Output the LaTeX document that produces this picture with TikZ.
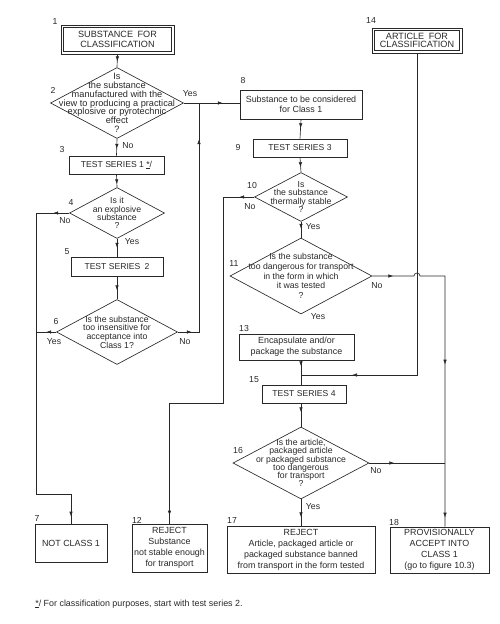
\documentclass[tikz,border=0pt]{standalone}
\usepackage{fontspec}
\setmainfont{Liberation Sans}
\usetikzlibrary{shapes.geometric,arrows.meta,decorations.markings}
\definecolor{ink}{RGB}{40,40,40}
\begin{document}
\begin{tikzpicture}[x=1pt,y=-1pt,color=ink,line width=0.65pt,
  bx/.style={draw,rectangle,inner sep=0pt,align=center,font=\fontsize{8.9}{10}\selectfont},
  dbx/.style={bx,line width=0.6pt},
  inbox/.style={line width=0.6pt},
  dia/.style={draw,diamond,inner sep=0pt},
  dtxt/.style={align=center,inner sep=0pt,font=\fontsize{8.7}{#1}\selectfont},
  num/.style={inner sep=0pt,font=\fontsize{8.7}{10}\selectfont},
  arr/.style={postaction={decorate,decoration={markings,mark=at position #1 with {\arrow{Latex[length=5pt,width=3.5pt]}}}}}
]
\useasboundingbox (0,0) rectangle (500,624);

% boxes
\node[dbx,minimum width=113pt,minimum height=29pt,font=\fontsize{9.1}{10}\selectfont] (n1) at (117.5,39.5) {SUBSTANCE\enspace FOR\\CLASSIFICATION};
\draw[inbox] ([shift={(3pt,-3pt)}]n1.north west) rectangle ([shift={(-3pt,3pt)}]n1.south east);
\node[dbx,minimum width=90pt,minimum height=25pt,font=\fontsize{9.1}{8.6}\selectfont] (n14) at (417,40.5) {ARTICLE\enspace FOR\\CLASSIFICATION};
\draw[inbox] ([shift={(3pt,-3pt)}]n14.north west) rectangle ([shift={(-3pt,3pt)}]n14.south east);
\node[bx,minimum width=95pt,minimum height=18pt,font=\fontsize{8.6}{10}\selectfont] (n3) at (116.5,165) {TEST SERIES 1 \underline{*}/};
\node[bx,minimum width=92pt,minimum height=19pt,font=\fontsize{8.6}{10}\selectfont] (n5) at (117,266.5) {TEST SERIES\enspace 2};
\node[bx,minimum width=72pt,minimum height=38pt] (n7) at (71,543) {NOT CLASS 1};
\node[bx,minimum width=122pt,minimum height=29pt,font=\fontsize{8.9}{10.5}\selectfont] (n8) at (301,104.5) {Substance to be considered\\for Class 1};
\node[bx,minimum width=94pt,minimum height=18pt,font=\fontsize{8.6}{10}\selectfont] (n9) at (300,148) {TEST SERIES 3};
\node[bx,minimum width=75pt,minimum height=48pt,font=\fontsize{8.9}{11}\selectfont] (n12) at (169.5,548) {REJECT\\Substance\\not stable enough\\for transport};
\node[bx,minimum width=115pt,minimum height=26pt,font=\fontsize{8.9}{11}\selectfont] (n13) at (296.5,347) {Encapsulate and/or\\package the substance};
\node[bx,minimum width=84pt,minimum height=18pt,font=\fontsize{8.6}{10}\selectfont] (n15) at (304,394) {TEST SERIES 4};
\node[bx,minimum width=148pt,minimum height=47pt,font=\fontsize{8.9}{11}\selectfont] (n17) at (301,549.5) {REJECT\\Article, packaged article or\\packaged substance banned\\from transport in the form tested};
\node[bx,minimum width=99pt,minimum height=46pt,font=\fontsize{8.9}{11}\selectfont] (n18) at (439.5,550) {PROVISIONALLY\\ACCEPT INTO\\CLASS 1\\(go to figure 10.3)};

% diamonds
\node[dia,minimum width=133pt,minimum height=71pt,label={[dtxt=8.8,font=\fontsize{9.2}{8.8}\selectfont]center:{Is\\the substance\\manufactured with the\\view to producing a practical\\explosive or pyrotechnic\\effect\\?}}] (d2) at (117,103) {};
\node[dia,minimum width=95pt,minimum height=51pt,label={[dtxt=8.3]center:{Is it\\an explosive\\substance\\?}}] (d4) at (117,213) {};
\node[dia,minimum width=121pt,minimum height=65pt,label={[dtxt=8.7]center:{Is the substance\\too insensitive for\\acceptance into\\Class 1?}}] (d6) at (117,332) {};
\node[dia,minimum width=93pt,minimum height=49pt,label={[dtxt=8.5]center:{Is\\the substance\\thermally stable\\?}}] (d10) at (301,197) {};
\node[dia,minimum width=142pt,minimum height=76pt,label={[dtxt=9.7]center:{Is the substance\\too dangerous for transport\\in the form in which\\it was tested\\?}}] (d11) at (301,276) {};
\node[dia,minimum width=136pt,minimum height=72pt,label={[dtxt=8.3]center:{Is the article,\\packaged article\\or packaged substance\\too dangerous\\for transport\\?}}] (d16) at (301,463) {};

% junction coordinates
\coordinate (k7) at (36,494);
\coordinate (k12) at (223,403);
\coordinate (kr) at (445,276);
\coordinate (j1) at (199,104);
\coordinate (j15) at (301,375);

% connectors
\draw[arr=0.55] (n1.south) -- (d2.north);
\draw[arr=39pt] (d2.east) -- (d2.east -| n8.west);
\draw[arr=10pt] (d2.south) -- (n3.north);
\draw[arr=10pt] (n3.south) -- (d4.north);
\draw[arr=9pt] (d4.south) -- (n5.north);
\draw[arr=14pt] (n5.south) -- (d6.north);
\draw[arr=16pt,arr=-7pt] (d4.west) -| (k7) -| (n7.north);
\draw[arr=10pt] (d6.west) -- (d6.west -| k7);
\draw[arr=14pt,arr=214pt] (d6.east) -| (j1);
\draw[arr=9pt] (n8.south) -- (n9.north);
\draw[arr=10pt] (n9.south) -- (d10.north);
\draw[arr=15pt,arr=-8pt] (d10.west) -| (k12) -| (n12.north);
\draw[arr=7pt] (d10.south) -- (d11.north);
\draw[arr=21pt,arr=-162pt,arr=-9pt] (d11.east) -- ([xshift=-3pt]d11.east -| n14.south) arc[start angle=180,end angle=360,radius=3] -- (kr) -- (kr |- n18.north);
\draw[arr=6pt] (d11.south |- n13.south) -- (d11.south |- n15.north);
\draw[arr=-51pt] (n14.south) |- (j15);
\draw[arr=9pt] (n15.south -| d16.north) -- (d16.north);
\draw[arr=25pt] (d16.east) -- (d16.east -| kr);
\draw[arr=18pt] (d16.south) -- (n17.north);

% numbers
\node[num] (l1) at (55,22) {1};
\node[num] (l2) at (53,90) {2};
\node[num] (l3) at (62,150) {3};
\node[num] (l4) at (71,203) {4};
\node[num] (l5) at (67,252) {5};
\node[num] (l6) at (56,322) {6};
\node[num] (l7) at (37,519) {7};
\node[num] (l8) at (243,81) {8};
\node[num] (l9) at (238,148) {9};
\node[num] (l10) at (252,186) {10};
\node[num] (l11) at (234,264) {11};
\node[num] (l12) at (137,520) {12};
\node[num] (l13) at (244,329) {13};
\node[num] (l14) at (371,21) {14};
\node[num] (l15) at (254,380) {15};
\node[num] (l16) at (238,450) {16};
\node[num] (l17) at (232,521) {17};
\node[num] (l18) at (394,522) {18};

% yes / no
\node[num] (y2) at (190,94) {Yes};
\node[num] (o2) at (128,146) {No};
\node[num] (o4) at (65,221) {No};
\node[num] (y4) at (132,242) {Yes};
\node[num] (y6) at (54,342) {Yes};
\node[num] (o6) at (185,342) {No};
\node[num] (o10) at (250,207) {No};
\node[num] (y10) at (313,227) {Yes};
\node[num] (o11) at (377,286) {No};
\node[num] (y11) at (318,317) {Yes};
\node[num] (o16) at (376,471) {No};
\node[num] (y16) at (313,507) {Yes};

% footnote
\node[num,anchor=west,font=\fontsize{8.9}{10}\selectfont] (fn) at (35,604) {\underline{*}/ For classification purposes, start with test series 2.};
\end{tikzpicture}
\end{document}
